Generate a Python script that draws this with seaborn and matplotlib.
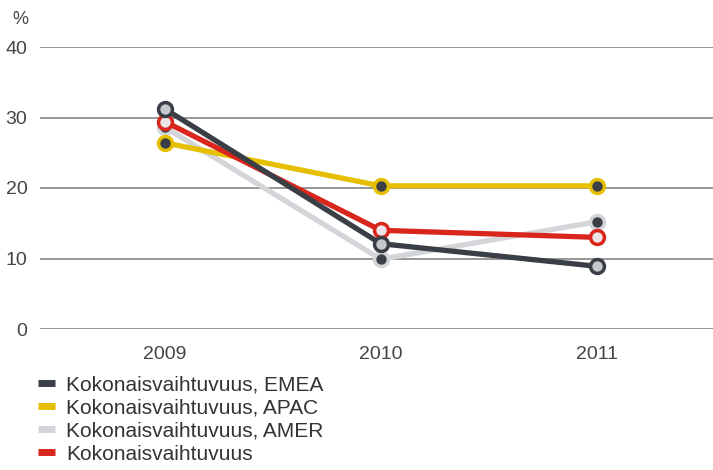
import pandas as pd
import seaborn as sns
import matplotlib.pyplot as plt
from matplotlib.lines import Line2D

# Data
years = [2009, 2010, 2011]
emea = [31.2, 12.1, 8.9]
apac = [26.4, 20.3, 20.3]
amer = [28.6, 9.9, 15.2]
total = [29.4, 14.0, 13.0]

labels = ["Kokonaisvaihtuvuus, EMEA", "Kokonaisvaihtuvuus, APAC",
          "Kokonaisvaihtuvuus, AMER", "Kokonaisvaihtuvuus"]

sns.set_style("white")
plt.rcParams['font.family'] = ['Liberation Sans', 'DejaVu Sans']

fig = plt.figure(figsize=(7.13, 4.70), dpi=100)
ax = fig.add_axes([0.056, 0.30, 0.944, 0.60])

# line colour, marker face, marker edge, zorder
styles = {
    labels[2]: ("#d3d5d8", "#3a3f45", "#d3d5d8", 3),
    labels[1]: ("#e6bf00", "#3a3f45", "#e6bf00", 4),
    labels[3]: ("#d8261d", "#ece4e6", "#d8261d", 5),
    labels[0]: ("#3a3f45", "#c5c8cc", "#3a3f45", 6),
}
series = {labels[0]: emea, labels[1]: apac, labels[2]: amer, labels[3]: total}

for name, (lc, mf, me, z) in styles.items():
    df = pd.DataFrame({"year": years, "value": series[name]})
    sns.lineplot(data=df, x="year", y="value", ax=ax, color=lc, linewidth=3.8,
                 marker="o", markersize=10, markerfacecolor=mf,
                 markeredgecolor=me, markeredgewidth=2.5, zorder=z,
                 clip_on=False)

ax.set_xlim(2008.42, 2011.54)
ax.set_ylim(0, 40)
ax.set_yticks([0, 10, 20, 30, 40])
ax.set_xticks(years)
ax.set_xticklabels([str(y) for y in years])
ax.grid(axis="y", color="#7a7a7a", linewidth=1.1)
ax.grid(axis="x", visible=False)
ax.set_axisbelow(True)
for s in ax.spines.values():
    s.set_visible(False)
ax.tick_params(axis="both", length=0, labelsize=14, labelcolor="#444444")
ax.tick_params(axis="y", pad=9)
ax.tick_params(axis="x", pad=12)
ax.set_xlabel("")
ax.set_ylabel("")
fig.text(12 / 713, 1 - 19 / 470, "%", fontsize=13, color="#444444", va="center")

handles = [Line2D([0], [0], color=c, linewidth=5, solid_capstyle="butt")
           for c in ["#3a3f45", "#e6bf00", "#d3d5d8", "#d8261d"]]
fig.legend(handles, labels, loc="upper left", bbox_to_anchor=(0.053, 0.202),
           frameon=False, fontsize=15, handlelength=0.82, handletextpad=0.53,
           labelspacing=0.2, borderaxespad=0, borderpad=0,
           labelcolor="#333333")

fig.savefig("out.png", dpi=100)
